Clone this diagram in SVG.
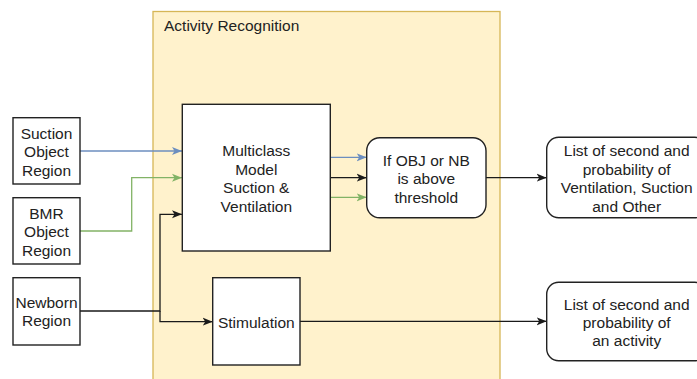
<svg xmlns="http://www.w3.org/2000/svg" width="697" height="379" viewBox="0 0 697 379">
  <style>
    text { font-family: "Liberation Sans", Arial, sans-serif; font-size: 15.5px; fill: #222; text-anchor: middle; dominant-baseline: central; }
    .box { fill: #ffffff; stroke: #222; stroke-width: 1.4; }
    .wire { fill: none; stroke-width: 1.3; }
    .k { stroke: #1a1a1a; }
    .b { stroke: #6c8ebf; }
    .g { stroke: #82b366; }
  </style>
  <defs>
    <marker id="ak" viewBox="0 0 10 10" refX="10" refY="5" markerWidth="10" markerHeight="10" markerUnits="userSpaceOnUse" orient="auto">
      <path d="M0,1 L10,5 L0,9 L2.5,5 Z" fill="#1a1a1a"/>
    </marker>
    <marker id="ab" viewBox="0 0 10 10" refX="10" refY="5" markerWidth="10" markerHeight="10" markerUnits="userSpaceOnUse" orient="auto">
      <path d="M0,1 L10,5 L0,9 L2.5,5 Z" fill="#6c8ebf"/>
    </marker>
    <marker id="ag" viewBox="0 0 10 10" refX="10" refY="5" markerWidth="10" markerHeight="10" markerUnits="userSpaceOnUse" orient="auto">
      <path d="M0,1 L10,5 L0,9 L2.5,5 Z" fill="#82b366"/>
    </marker>
  </defs>

  <rect width="697" height="379" fill="#ffffff"/>

  <!-- container -->
  <g id="activity-recognition">
    <rect x="153" y="11.5" width="347" height="380" fill="#fff2cc" stroke="#d6b656" stroke-width="1.3"/>
    <text x="164" y="25" style="text-anchor:start">Activity Recognition</text>
  </g>

  <!-- connectors -->
  <g id="connectors">
    <path class="wire b" d="M80,151 H182" marker-end="url(#ab)"/>
    <path class="wire g" d="M80,231 H131.7 V177.7 H182" marker-end="url(#ag)"/>
    <path class="wire k" d="M80,311 H160 V214.3 H182" marker-end="url(#ak)"/>
    <path class="wire k" d="M160,311 V321.7 H212.7" marker-end="url(#ak)"/>
    <path class="wire b" d="M330.3,157.3 H366.7" marker-end="url(#ab)"/>
    <path class="wire k" d="M330.3,177.7 H366.7" marker-end="url(#ak)"/>
    <path class="wire g" d="M330.3,197.3 H366.7" marker-end="url(#ag)"/>
    <path class="wire k" d="M486,177.7 H546.7" marker-end="url(#ak)"/>
    <path class="wire k" d="M300,321.3 H546.7" marker-end="url(#ak)"/>
  </g>

  <g id="suction-object-region">
    <rect class="box" x="13" y="117.7" width="67" height="66.3"/>
    <text x="46.5" y="133.3">Suction</text>
    <text x="46.5" y="151.7">Object</text>
    <text x="46.5" y="170">Region</text>
  </g>

  <g id="bmr-object-region">
    <rect class="box" x="13" y="197.7" width="67" height="66.3"/>
    <text x="46.5" y="213.3">BMR</text>
    <text x="46.5" y="231.7">Object</text>
    <text x="46.5" y="250">Region</text>
  </g>

  <g id="newborn-region">
    <rect class="box" x="13" y="277.7" width="67" height="67.3"/>
    <text x="46.5" y="302.3">Newborn</text>
    <text x="46.5" y="320.7">Region</text>
  </g>

  <g id="multiclass-model">
    <rect class="box" x="182.3" y="104.3" width="148" height="146.7"/>
    <text x="256.3" y="150.7">Multiclass</text>
    <text x="256.3" y="169.2">Model</text>
    <text x="256.3" y="187.7">Suction &amp;</text>
    <text x="256.3" y="206.2">Ventilation</text>
  </g>

  <g id="threshold-check">
    <rect class="box" x="366.7" y="137.7" width="119.3" height="80" rx="13" ry="13"/>
    <text x="426.3" y="160">If OBJ or NB</text>
    <text x="426.3" y="178.5">is above</text>
    <text x="426.3" y="197">threshold</text>
  </g>

  <g id="stimulation">
    <rect class="box" x="212.7" y="277.7" width="87.3" height="87.3"/>
    <text x="256.3" y="322.3">Stimulation</text>
  </g>

  <g id="output-multiclass">
    <rect class="box" x="546.7" y="137.3" width="160" height="80.4" rx="12" ry="12"/>
    <text x="626.7" y="150.7">List of second and</text>
    <text x="626.7" y="169.2">probability of</text>
    <text x="626.7" y="187.7">Ventilation, Suction</text>
    <text x="626.7" y="206.2">and Other</text>
  </g>

  <g id="output-stimulation">
    <rect class="box" x="546.7" y="282.3" width="160" height="78.4" rx="12" ry="12"/>
    <text x="626.7" y="304">List of second and</text>
    <text x="626.7" y="322.4">probability of</text>
    <text x="626.7" y="340.8">an activity</text>
  </g>
</svg>
